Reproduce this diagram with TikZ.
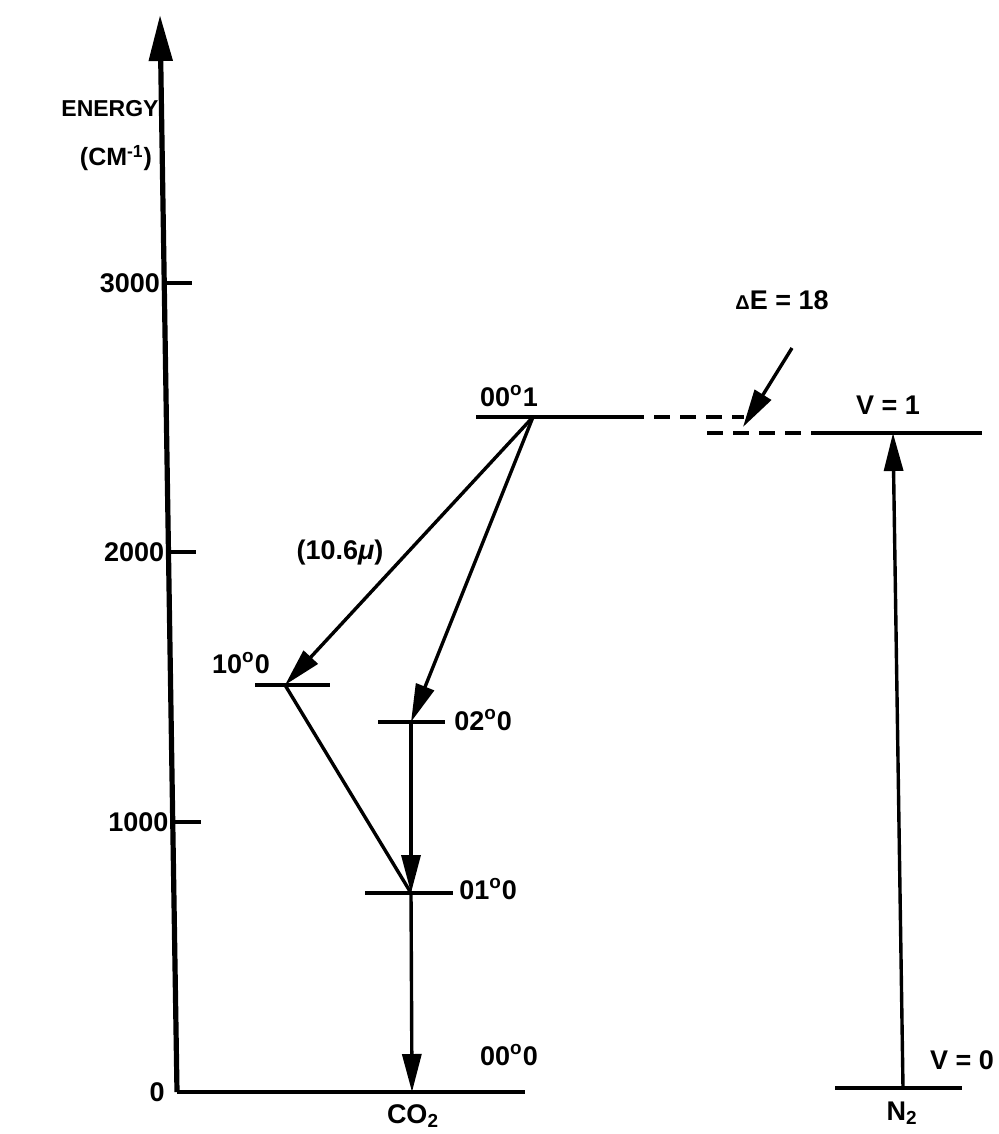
\documentclass[tikz,border=0pt]{standalone}
\usepackage{fontspec}
\setsansfont{Liberation Sans}
\usetikzlibrary{arrows.meta, calc}

\begin{document}
\begin{tikzpicture}[x=0.5pt, y=-0.5pt,
    level/.style={line width=2.2pt},
    gap/.style={line width=2.2pt, dash pattern=on 8pt off 5pt},
    trans/.style={line width=1.7pt, -{Triangle[length=19pt, width=9.5pt]}},
    lbl/.style={font=\sffamily\bfseries\fontsize{13.5}{15}\selectfont, inner sep=0pt}]
\useasboundingbox (0,0) rectangle (999,1134);

% energy axis
\coordinate (ax0) at (177,1092);
\coordinate (axtop) at (160,15);
\draw[line width=2.6pt, -{Triangle[length=23pt, width=11.5pt]}] (ax0) -- (axtop);
\foreach \y/\t in {283/3000, 552/2000, 822/1000} {
    \pgfmathsetmacro\p{(1092-\y)/1077}
    \coordinate (tick\t) at ($(ax0)!\p!(axtop)$);
    \draw[level] (tick\t) -- ++(28,0);
    \node[lbl, anchor=east] at ([xshift=-2]tick\t) {\t};
}
\node[lbl, anchor=east] at ([xshift=-6]ax0) {0};
\node[lbl, font=\sffamily\bfseries\fontsize{11.5}{13}\selectfont] (energy) at (110,109) {ENERGY};
\node[lbl, font=\sffamily\bfseries\fontsize{12.5}{14}\selectfont] (unit) at (116,158) {(CM\textsuperscript{-1})};

% CO2 levels
\coordinate (l001w) at (476,417); \coordinate (l001e) at (628,417); \coordinate (l001m) at (533,417);
\coordinate (l100w) at (255,685); \coordinate (l100e) at (330,685); \coordinate (l100m) at (285,685);
\coordinate (l020w) at (378,722); \coordinate (l020e) at (445,722); \coordinate (l020m) at (411,722);
\coordinate (l010w) at (365,893); \coordinate (l010e) at (453,893); \coordinate (l010m) at (411,893);
\coordinate (l000e) at (525,1092); \coordinate (l000m) at (412,1092);
\draw[level] (l001w) -- (l001e);
\draw[level] (l100w) -- (l100e);
\draw[level] (l020w) -- (l020e);
\draw[level] (l010w) -- (l010e);
\draw[level] (ax0) -- (l000e);

% N2 levels
\coordinate (v1w) at (818,433); \coordinate (v1e) at (982,433); \coordinate (v1m) at (893,433);
\coordinate (v0w) at (835,1088); \coordinate (v0e) at (962,1088); \coordinate (v0m) at (903,1088);
\draw[level] (v1w) -- (v1e);
\draw[level] (v0w) -- (v0e);

% near resonance
\coordinate (dup) at (744,417);
\coordinate (dlow) at (707,433);
\draw[gap] (l001e) -- (dup);
\draw[gap] (dlow) -- (v1w);
\node[lbl] (dE) at (782,300) {{\fontsize{10}{11}\selectfont Δ}E = 18};
\coordinate (dEs) at (792,348);
\coordinate (dEt) at (743,427);
\draw[trans] (dEs) -- (dEt);

% transitions
\draw[trans] (l001m) -- (l100m);
\draw[trans] (l001m) -- (l020m);
\draw[line width=1.7pt] (l100m) -- (l010m);
\draw[trans] (l020m) -- (l010m);
\draw[trans] (l010m) -- (l000m);
\draw[trans] (v0m) -- (v1m);

% labels
\node[lbl] at (509,396) {00\textsuperscript{o}1};
\node[lbl] at (241,663) {10\textsuperscript{o}0};
\node[lbl, anchor=west] at (454,720) {02\textsuperscript{o}0};
\node[lbl, anchor=west] at (459,889) {01\textsuperscript{o}0};
\node[lbl] at (509,1055) {00\textsuperscript{o}0};
\node[lbl] at (340,553) {(10.6\textit{μ})};
\node[lbl] at (413,1116) {CO\textsubscript{2}};
\node[lbl] at (888,405) {V = 1};
\node[lbl] at (962,1060) {V = 0};
\node[lbl] at (902,1113) {N\textsubscript{2}};
\end{tikzpicture}
\end{document}
